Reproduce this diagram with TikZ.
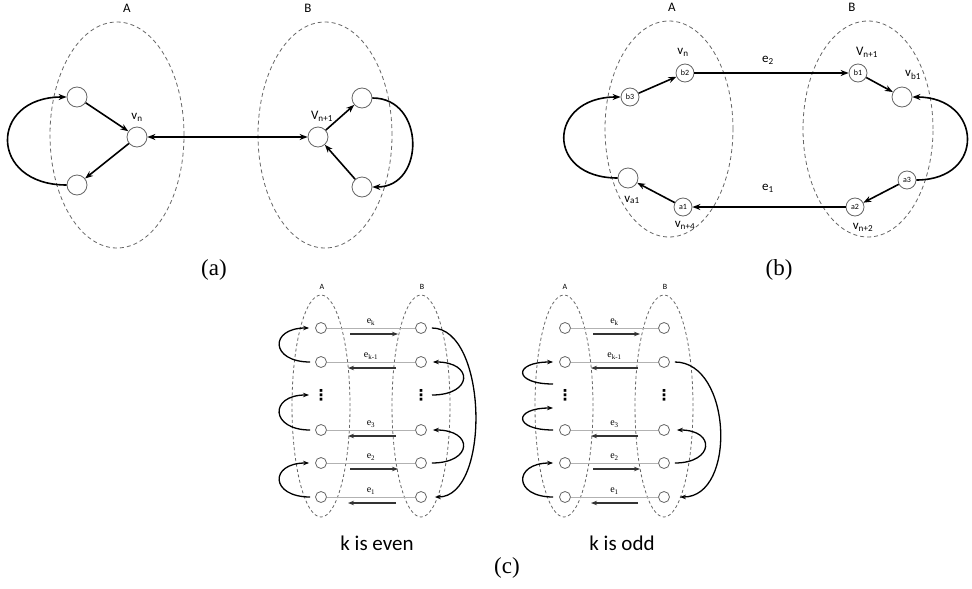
\documentclass[tikz,border=0pt]{standalone}
\usepackage{fontspec}
\setmainfont{Liberation Serif}
\setsansfont{Carlito}
\newfontfamily\symfont{DejaVu Sans}
\usetikzlibrary{arrows.meta,calc}
\begin{document}
\begin{tikzpicture}[x=1pt,y=-1pt,
  group/.style={draw=black!60, dash pattern=on 4pt off 3pt, line width=0.8pt},
  sgroup/.style={draw=black!60, dash pattern=on 3pt off 2.5pt, line width=0.8pt},
  vtx/.style={circle, draw=black!60, line width=0.8pt, minimum size=20pt, inner sep=0pt, fill=white},
  lvtx/.style={vtx, minimum size=18pt, font=\sffamily\fontsize{8}{8}\selectfont},
  svtx/.style={vtx, minimum size=11pt},
  edge/.style={line width=1.6pt, -{Stealth[length=8pt,width=6pt]}},
  cedge/.style={line width=1.3pt, -{Stealth[length=6pt,width=4.5pt]}},
  sarrow/.style={line width=1.6pt, draw=black!80, -{Stealth[length=6pt,width=4.5pt]}},
  hline/.style={draw=black!30, line width=0.8pt},
  lbl/.style={font=\sffamily\fontsize{13}{13}\selectfont, inner sep=0pt},
  grplbl/.style={font=\sffamily\fontsize{13}{13}\selectfont, inner sep=0pt},
  sgrplbl/.style={font=\sffamily\fontsize{8}{8}\selectfont, inner sep=0pt},
  elbl/.style={font=\fontsize{10}{10}\selectfont, inner sep=0pt},
  dotsn/.style={inner sep=0pt, font=\symfont\bfseries\fontsize{15}{15}\selectfont},
  paneltitle/.style={font=\fontsize{23}{23}\selectfont, inner sep=0pt},
  subtitle/.style={font=\sffamily\fontsize{21}{21}\selectfont, inner sep=0pt}]
\useasboundingbox (0,0) rectangle (972,589);

% ---------------- (a)
\draw[group] (117,135) ellipse [x radius=67pt, y radius=113pt];
\draw[group] (325,135) ellipse [x radius=67pt, y radius=113pt];
\node[grplbl] (laA) at (127,8) {A};
\node[grplbl] (laB) at (308,8) {B};
\node[vtx] (aul) at (77,97) {};
\node[vtx] (all) at (77,185) {};
\node[vtx] (avn) at (137,137) {};
\node[vtx] (avn1) at (318,137) {};
\node[vtx] (aur) at (362,98) {};
\node[vtx] (alr) at (362,187) {};
\node[lbl] (lvn) at (137,117) {v\textsubscript{n}};
\node[lbl] (lvn1) at (322,116) {V\textsubscript{n+1}};
\draw[edge] (aul) -- (avn);
\draw[edge] (avn) -- (all);
\draw[edge, {Stealth[length=8pt,width=6pt]}-{Stealth[length=8pt,width=6pt]}] (avn) -- (avn1);
\draw[edge] (avn1) -- (aur);
\draw[edge] (alr) -- (avn1);
\draw[edge] (all.west) .. controls +(-78,0) and +(-78,0) .. (aul.west);
\draw[edge] (aur.east) .. controls +(53,0) and +(53,0) .. (alr.east);
\node[paneltitle] (capa) at (214,270) {(a)};

% ---------------- (b)
\draw[group] (669,129) ellipse [x radius=64pt, y radius=108pt];
\draw[group] (868,129) ellipse [x radius=65pt, y radius=108pt];
\node[grplbl] (lbA) at (672,7) {A};
\node[grplbl] (lbB) at (852,7) {B};
\node[lvtx] (b3) at (630,97) {b3};
\node[lvtx] (b2) at (685,73) {b2};
\node[lvtx] (b1) at (858,73) {b1};
\node[vtx] (vb1) at (902,97) {};
\node[lvtx] (a3) at (907,180) {a3};
\node[lvtx] (a2) at (855,207) {a2};
\node[lvtx] (a1) at (683,207) {a1};
\node[vtx] (va1) at (628,178) {};
\node[lbl] (lbvn) at (683,52) {v\textsubscript{n}};
\node[lbl] (lbe2) at (768,60) {e\textsubscript{2}};
\node[lbl] (lbvn1) at (867,52) {V\textsubscript{n+1}};
\node[lbl] (lbvb1) at (913,75) {v\textsubscript{b1}};
\node[lbl] (lbe1) at (768,188) {e\textsubscript{1}};
\node[lbl] (lbva1) at (632,200) {v\textsubscript{a1}};
\node[lbl] (lbvn4) at (685,225) {v\textsubscript{n+4}};
\node[lbl] (lbvn2) at (863,227) {v\textsubscript{n+2}};
\draw[edge] (b3) -- (b2);
\draw[edge] (b2) -- (b1);
\draw[edge] (b1) -- (vb1);
\draw[edge] (a3) -- (a2);
\draw[edge] (a2) -- (a1);
\draw[edge] (a1) -- (va1);
\draw[edge] (va1.west) .. controls +(-73,0) and +(-73,0) .. (b3.west);
\draw[edge] (a3.east) .. controls +(70,0) and +(70,0) .. (vb1.east);
\node[paneltitle] (capb) at (779,270) {(b)};

% ---------------- (c) even
\draw[sgroup] (321,406) ellipse [x radius=29pt, y radius=111pt];
\draw[sgroup] (421,406) ellipse [x radius=29pt, y radius=111pt];
\node[sgrplbl] (lcA1) at (322,287) {A};
\node[sgrplbl] (lcB1) at (422,287) {B};
\foreach \n/\y in {1/328,2/362,4/430,5/463,6/497}{
  \node[svtx] (eL\n) at (321,\y) {};
  \node[svtx] (eR\n) at (421,\y) {};
  \draw[hline] (eL\n) -- (eR\n);
}
\node[dotsn] (eL3) at (321,395) {⋮};
\node[dotsn] (eR3) at (421,395) {⋮};
\foreach \n/\t in {1/k,2/k-1,4/3,5/2,6/1}{
  \node[elbl] (eE\n) at ($(eL\n)!0.5!(eR\n)+(0,-6)$) {e\textsubscript{\t}};
}
\foreach \n in {1,5}{
  \draw[sarrow] ($(eL\n)+(29,6)$) -- ($(eR\n)+(-23,6)$);
}
\foreach \n in {2,4,6}{
  \draw[sarrow] ($(eR\n)+(-25,6)$) -- ($(eL\n)+(27,6)$);
}
\draw[cedge] ([xshift=-5pt]eL2.west) .. controls +(-40,0) and +(-40,0) .. ([xshift=-6pt]eL1.west);
\draw[cedge] ([xshift=-5pt]eL4.west) .. controls +(-40,0) and +(-40,0) .. ([xshift=-12pt]eL3.center);
\draw[cedge] ([xshift=-5pt]eL6.west) .. controls +(-40,0) and +(-40,0) .. ([xshift=-6pt]eL5.west);
\draw[cedge] ([xshift=5pt]eR1.east) .. controls +(56,0) and +(56,0) .. ([xshift=8pt]eR6.east);
\draw[cedge] ([xshift=11pt]eR3.center) .. controls +(41,0) and +(41,0) .. ([xshift=6pt]eR2.east);
\draw[cedge] ([xshift=5pt]eR5.east) .. controls +(41,0) and +(41,0) .. ([xshift=6pt]eR4.east);
\node[subtitle] (keven) at (377,543) {k is even};

% ---------------- (c) odd
\draw[sgroup] (564,406) ellipse [x radius=29pt, y radius=111pt];
\draw[sgroup] (664,406) ellipse [x radius=29pt, y radius=111pt];
\node[sgrplbl] (lcA2) at (565,287) {A};
\node[sgrplbl] (lcB2) at (665,287) {B};
\foreach \n/\y in {1/328,2/362,4/430,5/463,6/497}{
  \node[svtx] (oL\n) at (565,\y) {};
  \node[svtx] (oR\n) at (664,\y) {};
  \draw[hline] (oL\n) -- (oR\n);
}
\node[dotsn] (oL3) at (565,395) {⋮};
\node[dotsn] (oR3) at (664,395) {⋮};
\foreach \n/\t in {1/k,2/k-1,4/3,5/2,6/1}{
  \node[elbl] (oE\n) at ($(oL\n)!0.5!(oR\n)+(0,-6)$) {e\textsubscript{\t}};
}
\foreach \n in {1,5}{
  \draw[sarrow] ($(oL\n)+(28,6)$) -- ($(oR\n)+(-24,6)$);
}
\foreach \n in {2,4,6}{
  \draw[sarrow] ($(oR\n)+(-26,6)$) -- ($(oL\n)+(26,6)$);
}
\draw[cedge] ([xshift=-12pt,yshift=11pt]oL3.center) .. controls +(-40,0) and +(-40,0) .. ([xshift=-6pt]oL2.west);
\draw[cedge] ([xshift=-6pt]oL4.west) .. controls +(-40,0) and +(-40,0) .. ([xshift=-12pt,yshift=-13pt]oL3.center);
\draw[cedge] ([xshift=-6pt]oL6.west) .. controls +(-40,0) and +(-40,0) .. ([xshift=-6pt]oL5.west);
\draw[cedge] ([xshift=5pt]oR2.east) .. controls +(57,0) and +(57,0) .. ([xshift=10pt]oR6.east);
\draw[cedge] ([xshift=5pt]oR5.east) .. controls +(39,0) and +(39,0) .. ([xshift=7pt]oR4.east);
\node[subtitle] (kodd) at (622,543) {k is odd};
\node[paneltitle] (capc) at (507,568) {(c)};
\end{tikzpicture}
\end{document}
